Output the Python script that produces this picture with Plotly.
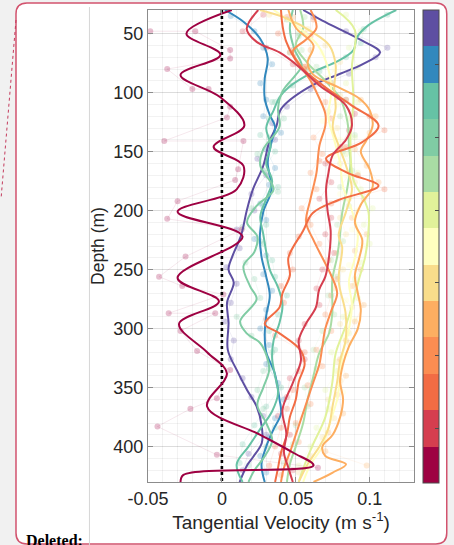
import plotly.graph_objects as go

# ---------------- colour scale (13 profiles, top of colour bar first) ----------------
profile_colors = ['#5E4FA2', '#3288BD', '#66C2A5', '#80CCA4', '#A9DCA4', '#E1F29A', '#FFFFBF',
                  '#F9DD8B', '#FDAE61', '#FB8D52', '#F26C44', '#D53E4F', '#9E0142']

# ---------------- smoothed profiles: depth (m) and tangential velocity (m/s) ----------------
purple_d = [30, 39, 56, 66, 76, 84, 96, 114, 128, 142, 162, 182, 199, 221, 239, 250, 261, 278, 295, 318, 335, 352, 366, 383, 397, 409, 416, 430]
purple_v = [0.055, 0.068, 0.095, 0.107, 0.095, 0.080, 0.058, 0.040, 0.037, 0.032, 0.028, 0.021, 0.017, 0.013, 0.007, 0.0045, 0.008, 0.0035, 0.0045, 0.004, 0.010, 0.017, 0.0235, 0.027, 0.027, 0.021, 0.017, 0.012]

blue_d = [30, 40, 54, 71, 88, 105, 119, 129, 142, 159, 182, 201, 221, 239, 256, 272, 289, 306, 320, 338, 360, 372, 386, 400, 415, 430]
blue_v = [0.002, 0.0146, 0.0257, 0.031, 0.029, 0.029, 0.0324, 0.036, 0.0336, 0.031, 0.0336, 0.028, 0.0257, 0.0268, 0.030, 0.0324, 0.030, 0.029, 0.030, 0.0358, 0.039, 0.040, 0.0347, 0.030, 0.0268, 0.029]

teal_d = [30, 43, 53, 64, 73, 83, 95, 104, 115, 130, 145, 160, 175, 190, 205, 220, 235, 250, 265, 280, 295, 310, 325, 340, 355, 370, 385, 400, 415, 430]
teal_v = [0.118, 0.099, 0.0915, 0.089, 0.079, 0.061, 0.0456, 0.039, 0.035, 0.030, 0.033, 0.030, 0.034, 0.030, 0.026, 0.028, 0.030, 0.0324, 0.038, 0.041, 0.039, 0.035, 0.034, 0.036, 0.038, 0.034, 0.026, 0.018, 0.010, 0.014]

mint_d = [30, 46, 63, 77, 85, 99, 114, 129, 148, 162, 182, 196, 210, 222, 235, 247, 264, 275, 294, 304, 312, 322, 335, 350, 365, 380, 395, 410, 420, 430]
mint_v = [0.048, 0.046, 0.049, 0.054, 0.050, 0.041, 0.038, 0.039, 0.028, 0.026, 0.035, 0.0235, 0.017, 0.024, 0.022, 0.0146, 0.019, 0.0235, 0.0123, 0.0168, 0.0257, 0.030, 0.032, 0.028, 0.024, 0.030, 0.034, 0.028, 0.022, 0.018]

lgreen_d = [30, 45, 60, 75, 90, 105, 125, 145, 160, 180, 202, 220, 239, 259, 287, 304, 321, 340, 360, 380, 400, 415, 430]
lgreen_v = [0.053, 0.055, 0.050, 0.058, 0.070, 0.080, 0.085, 0.086, 0.087, 0.085, 0.0814, 0.080, 0.078, 0.0747, 0.0747, 0.0725, 0.0658, 0.062, 0.058, 0.055, 0.050, 0.046, 0.044]

lime_d = [30, 47, 78, 107, 140, 174, 190, 202, 220, 239, 259, 281, 298, 321, 346, 375, 400, 420, 430]
lime_v = [0.077, 0.090, 0.088, 0.089, 0.087, 0.089, 0.096, 0.0993, 0.099, 0.097, 0.0926, 0.088, 0.0837, 0.077, 0.0747, 0.070, 0.061, 0.0546, 0.052]

cream_d = [30, 45, 60, 80, 100, 120, 140, 160, 180, 200, 220, 240, 260, 280, 300, 320, 340, 360, 380, 400, 415, 430]
cream_v = [0.035, 0.052, 0.065, 0.072, 0.074, 0.072, 0.076, 0.080, 0.082, 0.088, 0.092, 0.090, 0.086, 0.088, 0.086, 0.082, 0.080, 0.078, 0.073, 0.068, 0.060, 0.055]

yellow_d = [30, 37, 49, 60, 77, 96, 113, 129, 145, 162, 182, 201, 221, 231, 259, 287, 310, 327, 345, 365, 385, 400, 415, 430]
yellow_v = [0.0257, 0.0436, 0.0615, 0.0727, 0.077, 0.076, 0.077, 0.075, 0.079, 0.084, 0.088, 0.084, 0.079, 0.0814, 0.079, 0.0837, 0.0837, 0.080, 0.078, 0.075, 0.072, 0.066, 0.058, 0.052]

lorange_d = [30, 45, 60, 75, 85, 95, 105, 115, 128, 140, 150, 165, 180, 195, 210, 225, 240, 255, 270, 285, 300, 315, 330, 345, 360, 375, 390, 400, 408, 415, 422, 430]
lorange_v = [0.045, 0.050, 0.062, 0.058, 0.062, 0.078, 0.093, 0.100, 0.102, 0.098, 0.094, 0.100, 0.102, 0.094, 0.090, 0.095, 0.093, 0.090, 0.092, 0.094, 0.092, 0.086, 0.082, 0.080, 0.082, 0.080, 0.075, 0.068, 0.070, 0.084, 0.075, 0.062]

orange_d = [30, 45, 55, 65, 75, 90, 105, 118, 128, 145, 168, 190, 210, 225, 240, 255, 270, 285, 300, 315, 330, 345, 360, 375, 390, 405, 418, 430]
orange_v = [0.060, 0.064, 0.057, 0.048, 0.052, 0.060, 0.066, 0.070, 0.070, 0.066, 0.064, 0.060, 0.057, 0.062, 0.068, 0.074, 0.078, 0.074, 0.070, 0.068, 0.066, 0.062, 0.058, 0.054, 0.050, 0.046, 0.042, 0.040]

vermil_d = [30, 43, 57, 77, 96, 111, 128, 142, 156, 168, 179, 191, 202, 217, 240, 255, 270, 282, 296, 304, 318, 330, 345, 360, 375, 390, 405, 418, 430]
vermil_v = [0.040, 0.041, 0.0436, 0.0526, 0.0705, 0.088, 0.106, 0.095, 0.0705, 0.085, 0.106, 0.079, 0.0615, 0.055, 0.045, 0.046, 0.041, 0.039, 0.029, 0.039, 0.053, 0.056, 0.052, 0.050, 0.046, 0.044, 0.040, 0.038, 0.036]

red_d = [30, 46, 57, 66, 78, 94, 111, 128, 140, 153, 169, 182, 201, 217, 239, 256, 267, 282, 296, 310, 327, 346, 369, 389, 405, 418, 430]
red_v = [0.0246, 0.0168, 0.0235, 0.039, 0.052, 0.066, 0.084, 0.088, 0.084, 0.075, 0.072, 0.0705, 0.0716, 0.0736, 0.0725, 0.070, 0.0658, 0.0636, 0.0568, 0.052, 0.0535, 0.048, 0.041, 0.0436, 0.042, 0.045, 0.048]

crimson_d = [30, 50, 68, 85, 104, 128, 146, 162, 182, 201, 222, 257, 277, 296, 320, 338, 366, 390, 405, 416, 424, 430]
crimson_v = [0.0067, -0.024, -0.001, -0.028, -0.001, 0.0152, -0.0056, 0.0146, 0.010, -0.030, 0.014, -0.030, -0.002, -0.029, -0.010, 0.0034, -0.010, 0.026, 0.048, 0.062, -0.026, -0.028]

# ---------------- raw observations behind each profile ----------------
purple_rd = [36, 48, 62, 70, 84, 97, 112, 126, 140, 156, 170, 186, 200, 216, 232, 248, 262, 278, 294, 310, 326, 342, 358, 374, 390, 406, 420]
purple_rv = [0.062, 0.084, 0.112, 0.104, 0.086, 0.060, 0.044, 0.034, 0.036, 0.024, 0.030, 0.020, 0.022, 0.010, 0.012, 0.003, 0.010, 0.006, 0.002, 0.008, 0.006, 0.014, 0.020, 0.028, 0.030, 0.018, 0.014]
blue_rd = [35, 48, 62, 76, 92, 106, 120, 134, 148, 164, 178, 194, 208, 224, 238, 254, 268, 284, 300, 314, 330, 346, 360, 376, 392, 408, 422]
blue_rv = [0.006, 0.022, 0.028, 0.034, 0.026, 0.030, 0.028, 0.040, 0.030, 0.036, 0.032, 0.026, 0.030, 0.022, 0.030, 0.028, 0.034, 0.030, 0.026, 0.032, 0.030, 0.038, 0.042, 0.036, 0.032, 0.026, 0.030]
teal_rd = [34, 46, 58, 70, 82, 94, 108, 122, 136, 150, 166, 180, 196, 212, 226, 242, 256, 272, 288, 302, 318, 334, 350, 366, 382, 398, 414]
teal_rv = [0.112, 0.096, 0.094, 0.084, 0.066, 0.048, 0.034, 0.032, 0.026, 0.036, 0.028, 0.038, 0.028, 0.030, 0.026, 0.034, 0.036, 0.044, 0.038, 0.032, 0.036, 0.032, 0.040, 0.030, 0.022, 0.014, 0.012]
mint_rd = [38, 52, 66, 80, 94, 108, 122, 138, 152, 168, 184, 198, 214, 228, 244, 258, 274, 290, 306, 320, 336, 352, 368, 384, 400, 416]
mint_rv = [0.044, 0.052, 0.046, 0.058, 0.046, 0.036, 0.042, 0.032, 0.024, 0.030, 0.038, 0.020, 0.014, 0.028, 0.016, 0.022, 0.026, 0.010, 0.020, 0.034, 0.028, 0.024, 0.028, 0.036, 0.030, 0.018]
lgreen_rd = [36, 50, 64, 78, 92, 106, 120, 136, 150, 166, 180, 196, 212, 226, 242, 256, 272, 288, 302, 318, 334, 350, 366, 382, 398, 414]
lgreen_rv = [0.056, 0.052, 0.054, 0.064, 0.074, 0.084, 0.080, 0.090, 0.082, 0.088, 0.080, 0.086, 0.078, 0.082, 0.074, 0.078, 0.072, 0.076, 0.068, 0.062, 0.064, 0.056, 0.058, 0.050, 0.048, 0.042]
lime_rd = [34, 48, 62, 78, 92, 108, 122, 138, 152, 168, 182, 198, 212, 228, 244, 258, 274, 290, 304, 320, 336, 352, 368, 384, 400, 416]
lime_rv = [0.084, 0.094, 0.086, 0.092, 0.084, 0.092, 0.086, 0.090, 0.084, 0.092, 0.094, 0.102, 0.096, 0.100, 0.094, 0.090, 0.092, 0.082, 0.086, 0.074, 0.078, 0.070, 0.072, 0.064, 0.060, 0.052]
cream_rd = [38, 52, 66, 80, 96, 110, 124, 140, 154, 170, 186, 200, 216, 230, 246, 262, 276, 292, 308, 322, 338, 354, 370, 386, 402, 418]
cream_rv = [0.044, 0.058, 0.068, 0.076, 0.070, 0.078, 0.068, 0.080, 0.076, 0.084, 0.080, 0.092, 0.088, 0.096, 0.086, 0.090, 0.084, 0.090, 0.082, 0.084, 0.078, 0.082, 0.074, 0.070, 0.064, 0.058]
yellow_rd = [34, 46, 60, 74, 88, 102, 116, 130, 146, 160, 176, 190, 206, 220, 236, 250, 266, 282, 296, 312, 328, 344, 360, 376, 392, 408, 422]
yellow_rv = [0.032, 0.058, 0.070, 0.080, 0.072, 0.080, 0.072, 0.078, 0.082, 0.080, 0.090, 0.086, 0.080, 0.084, 0.078, 0.082, 0.076, 0.088, 0.080, 0.086, 0.078, 0.080, 0.072, 0.076, 0.068, 0.060, 0.052]
lorange_rd = [36, 50, 64, 78, 92, 106, 120, 134, 148, 162, 176, 190, 206, 220, 234, 250, 264, 280, 294, 310, 326, 340, 356, 372, 388, 404, 416]
lorange_rv = [0.048, 0.056, 0.060, 0.056, 0.074, 0.094, 0.104, 0.100, 0.090, 0.098, 0.106, 0.096, 0.088, 0.098, 0.090, 0.094, 0.088, 0.096, 0.090, 0.084, 0.080, 0.084, 0.078, 0.082, 0.072, 0.070, 0.098]
orange_rd = [38, 52, 66, 80, 94, 108, 122, 138, 152, 168, 182, 198, 212, 228, 242, 258, 272, 288, 302, 318, 332, 348, 364, 380, 396, 412, 424]
orange_rv = [0.062, 0.060, 0.046, 0.056, 0.062, 0.070, 0.074, 0.062, 0.068, 0.060, 0.064, 0.054, 0.060, 0.066, 0.072, 0.078, 0.074, 0.070, 0.074, 0.064, 0.068, 0.058, 0.060, 0.050, 0.052, 0.044, 0.040]
vermil_rd = [36, 50, 64, 78, 92, 106, 120, 132, 146, 158, 170, 182, 194, 208, 222, 236, 250, 264, 278, 292, 306, 320, 336, 352, 368, 384, 400, 416]
vermil_rv = [0.044, 0.038, 0.048, 0.056, 0.066, 0.084, 0.100, 0.110, 0.084, 0.066, 0.092, 0.110, 0.074, 0.058, 0.052, 0.046, 0.048, 0.040, 0.042, 0.030, 0.036, 0.056, 0.052, 0.048, 0.044, 0.040, 0.036, 0.032]
red_rd = [34, 48, 62, 76, 90, 104, 118, 132, 146, 160, 176, 190, 206, 220, 236, 250, 266, 280, 296, 310, 326, 342, 358, 374, 390, 406, 420]
red_rv = [0.028, 0.014, 0.030, 0.048, 0.062, 0.078, 0.090, 0.086, 0.080, 0.070, 0.074, 0.066, 0.074, 0.070, 0.076, 0.068, 0.064, 0.066, 0.056, 0.052, 0.056, 0.046, 0.044, 0.038, 0.046, 0.040, 0.048]
crimson_rd = [48, 48, 64, 71, 80, 97, 97, 112, 121, 141, 141, 165, 174, 192, 207, 216, 239, 256, 264, 271, 287, 287, 302, 319, 335, 359, 368, 383, 407, 418]
crimson_rv = [-0.0485, -0.018, 0.0056, 0.0056, -0.037, -0.020, -0.009, 0.0056, 0.0034, -0.039, 0.0146, 0.011, 0.009, -0.030, -0.037, 0.0134, -0.0246, -0.0425, -0.0268, 0.001, -0.036, -0.0045, -0.028, -0.0168, 0.0056, -0.0034, -0.0213, -0.0436, -0.0034, 0.065]

smooth = [(purple_d, purple_v), (blue_d, blue_v), (teal_d, teal_v), (mint_d, mint_v),
          (lgreen_d, lgreen_v), (lime_d, lime_v), (cream_d, cream_v), (yellow_d, yellow_v),
          (lorange_d, lorange_v), (orange_d, orange_v), (vermil_d, vermil_v), (red_d, red_v),
          (crimson_d, crimson_v)]
raw = [(purple_rd, purple_rv), (blue_rd, blue_rv), (teal_rd, teal_rv), (mint_rd, mint_rv),
       (lgreen_rd, lgreen_rv), (lime_rd, lime_rv), (cream_rd, cream_rv), (yellow_rd, yellow_rv),
       (lorange_rd, lorange_rv), (orange_rd, orange_rv), (vermil_rd, vermil_rv), (red_rd, red_rv),
       (crimson_rd, crimson_rv)]

x_ticks = [-0.05, 0, 0.05, 0.1]
x_tick_text = ['-0.05', '0', '0.05', '0.1']
y_ticks = [50, 100, 150, 200, 250, 300, 350, 400]


def rgba(hex_color, alpha):
    h = hex_color.lstrip('#')
    return 'rgba(%d,%d,%d,%.3f)' % (int(h[0:2], 16), int(h[2:4], 16), int(h[4:6], 16), alpha)


fig = go.Figure()

# faint raw observations first, so the smoothed curves sit on top
for (d, v), c in zip(raw, profile_colors):
    fig.add_trace(go.Scatter(x=v, y=d, mode='lines+markers', showlegend=False, hoverinfo='skip',
                             line=dict(color=rgba(c, 0.12), width=0.8),
                             marker=dict(color=rgba(c, 0.25), size=6)))

# zero-velocity reference line
fig.add_trace(go.Scatter(x=[0, 0], y=[30, 430], mode='lines', showlegend=False, hoverinfo='skip',
                         line=dict(color='black', width=2.6, dash='dot')))

# smoothed profiles
for (d, v), c in zip(smooth, profile_colors):
    fig.add_trace(go.Scatter(x=v, y=d, mode='lines', showlegend=False,
                             line=dict(color=c, width=2, shape='spline', smoothing=1.0)))

# discrete colour bar
n = len(profile_colors)
bottom_up = profile_colors[::-1]
scale = []
for i, c in enumerate(bottom_up):
    scale.append([i / n, c])
    scale.append([(i + 1) / n, c])

# page geometry (pixels) for the plot area
W, H = 454, 545
L, R, T, B = 148, 416, 10, 482


def xp(px):
    return (px - L) / (R - L)


def yp(py):
    return (B - py) / (B - T)


fig.add_trace(go.Scatter(x=[None], y=[None], mode='markers', showlegend=False, hoverinfo='skip',
                         marker=dict(color=[0], cmin=0, cmax=n, colorscale=scale, showscale=True,
                                     colorbar=dict(x=xp(425), xanchor='left', xpad=0,
                                                   y=yp(246.5), yanchor='middle', ypad=0,
                                                   thickness=16, thicknessmode='pixels',
                                                   len=473, lenmode='pixels',
                                                   outlinewidth=1, outlinecolor='#4d4d4d',
                                                   ticks='inside', ticklen=4, tickcolor='#4d4d4d',
                                                   tickvals=[1.5, 3.5, 5.5, 7.5, 9.5, 11.5],
                                                   showticklabels=False))))

# comment-balloon style frame around the figure
x0, x1, y0, y1, r = 15, 449, 3, 544, 11
frame_path = ('M {a},{b} L {c},{b} Q {d},{b} {d},{e} L {d},{f} Q {d},{g} {c},{g} '
              'L {a},{g} Q {h},{g} {h},{f} L {h},{e} Q {h},{b} {a},{b} Z').format(
    a=xp(x0 + r), b=yp(y0), c=xp(x1 - r), d=xp(x1), e=yp(y0 + r), f=yp(y1 - r), g=yp(y1), h=xp(x0))

shapes = [
    dict(type='path', xref='paper', yref='paper', path=frame_path, layer='below',
         fillcolor='white', line=dict(color='#d2536e', width=1.5)),
    dict(type='line', xref='paper', yref='paper', x0=xp(89), x1=xp(89), y0=yp(7), y1=yp(545),
         layer='below', line=dict(color='#d6d6d6', width=1)),
    dict(type='line', xref='paper', yref='paper', x0=xp(15), x1=xp(0), y0=yp(20), y1=yp(198),
         layer='below', line=dict(color='#c43a5c', width=1, dash='dot')),
]

font_family = 'Liberation Sans, Arial, Helvetica, sans-serif'
tick_font = dict(family=font_family, size=18, color='#262626')

fig.update_layout(
    width=W, height=H,
    margin=dict(l=L, r=W - R, t=T, b=H - B, pad=0),
    paper_bgcolor='#f1f1f1', plot_bgcolor='rgba(0,0,0,0)',
    font=dict(family=font_family, size=18, color='#262626'),
    shapes=shapes,
    annotations=[dict(text='<b>Deleted:</b>', xref='paper', yref='paper', x=xp(23), y=yp(530),
                      xanchor='left', yanchor='top', showarrow=False,
                      font=dict(family='Liberation Serif, Times New Roman, serif', size=16, color='black'))],
    xaxis=dict(range=[-0.05, 0.13], tickvals=x_ticks, ticktext=x_tick_text, tickfont=tick_font,
               showline=True, mirror='ticks', linecolor='#8c8c8c', linewidth=1,
               ticks='inside', ticklen=5, tickcolor='#8c8c8c', zeroline=False,
               showgrid=True, gridcolor='rgba(0,0,0,0.09)', gridwidth=1,
               minor=dict(dtick=0.01, tick0=0, showgrid=True, gridcolor='rgba(0,0,0,0.05)', ticks=''),
               title=dict(text='Tangential Velocity (m s<sup>-1</sup>)', standoff=6,
                          font=dict(family=font_family, size=19, color='#262626'))),
    yaxis=dict(range=[430, 30], tickvals=y_ticks, tickfont=tick_font,
               showline=True, mirror='ticks', linecolor='#8c8c8c', linewidth=1,
               ticks='inside', ticklen=5, tickcolor='#8c8c8c', zeroline=False,
               showgrid=True, gridcolor='rgba(0,0,0,0.09)', gridwidth=1,
               minor=dict(dtick=10, tick0=0, showgrid=True, gridcolor='rgba(0,0,0,0.05)', ticks=''),
               title=dict(text='Depth (m)', standoff=4,
                          font=dict(family=font_family, size=17.5, color='#262626'))),
)

fig.write_html('out.html')
